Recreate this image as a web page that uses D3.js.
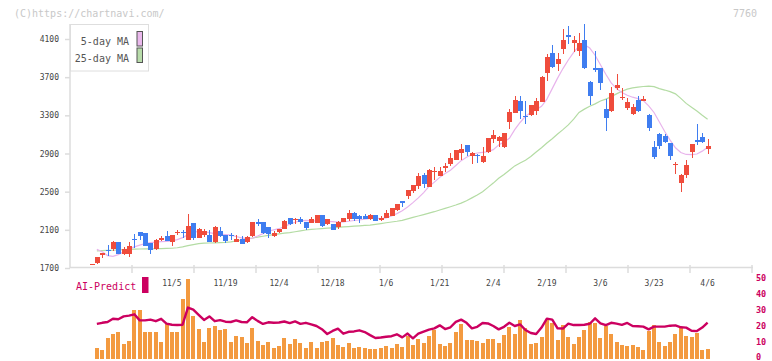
<!DOCTYPE html>
<html><head><meta charset="utf-8">
<script src="https://cdn.jsdelivr.net/npm/d3@7"></script>
<style>
html,body{margin:0;padding:0;background:#fff;}
svg{display:block;font-family:"DejaVu Sans Mono","Liberation Mono",monospace;}
</style></head><body>
<svg id="c" width="772" height="361"></svg>
<script>
// ---- data ----
const openP=[1738,1752,1839,1889,1896,1972,1844,1844,2007,2077,2067,1962,1896,1997,2035,1976,2075,2080,1993,2171,2018,2049,2046,1972,
2088,2046,2049,1972,2004,1972,2035,2182,2182,2130,2035,2077,2109,2224,2214,2213,2182,2172,2172,2255,2161,2161,2130,2182,2213,
2276,2245,2245,2213,2255,2203,2224,2245,2308,2402,2455,2507,2559,2674,2549,2712,2664,2748,2790,2832,2905,2989,2874,2889,
2811,2916,3052,3031,2968,
3230,3325,3450,3298,3303,3345,3440,3744,3953,3838,3995,4141,4058,3974,4089,3649,3796,3796,3366,3345,3587,3489,3377,3314,3461,3450,3303,
2968,3104,3083,3010,2788,2591,2675,2916,3041,3073,2947];
const closeP=[1742,1815,1857,1875,1972,1847,1899,1934,2000,2038,1934,1889,1997,2018,1983,2046,2079,2073,2140,2018,2109,2088,1976,2130,
2038,1983,2042,2004,1951,2025,2182,2172,2067,2056,2067,2109,2193,2161,2218,2182,2119,2213,2255,2140,2213,2098,2182,2224,2276,
2213,2213,2213,2255,2192,2224,2276,2329,2371,2395,2517,2570,2664,2580,2727,2720,2717,2769,2853,2937,2947,2916,2905,2884,
2874,3062,3094,3073,3115,
3335,3461,3345,3290,3408,3450,3702,3911,3807,3890,4089,4120,4089,4058,3796,3503,3786,3639,3272,3534,3618,3495,3440,3387,3345,3471,3167,
2863,2979,3020,2874,2792,2675,2779,2999,3031,3020,2979];
const highP=[1745,1815,1857,1941,1983,1975,1920,1969,2056,2077,2067,1965,2000,2038,2088,2046,2101,2101,2266,2171,2120,2109,2097,2140,
2130,2050,2067,2046,2035,2035,2182,2213,2185,2132,2088,2112,2203,2226,2224,2234,2185,2234,2255,2258,2213,2165,2193,2224,2308,
2287,2255,2266,2266,2258,2245,2308,2329,2371,2402,2517,2570,2695,2695,2737,2758,2758,2800,2905,2940,3000,2992,2916,2895,
2968,3066,3146,3080,3120,
3366,3503,3503,3450,3412,3482,3712,3943,4037,3953,4204,4235,4131,4162,4256,3660,3975,3800,3471,3597,3733,3587,3482,3420,3503,3503,3310,
3031,3115,3104,3015,2811,2685,2832,3000,3209,3115,3052];
const lowP=[1735,1740,1808,1829,1881,1845,1840,1812,1913,1993,1934,1847,1890,1987,1983,1934,2049,2018,1990,1990,2010,2028,1970,1962,
2030,1962,1997,1968,1948,1962,2030,2140,2056,2014,2030,2067,2105,2150,2161,2161,2098,2168,2168,2130,2150,2098,2109,2178,2193,
2193,2172,2210,2205,2190,2195,2220,2240,2300,2339,2420,2486,2528,2538,2545,2622,2660,2706,2769,2830,2832,2874,2790,2800,
2805,2910,3010,2968,2960,
3157,3320,3261,3210,3295,3303,3435,3660,3800,3765,3943,4047,3964,3922,3790,3408,3754,3566,3135,3340,3566,3461,3356,3300,3335,3450,3135,
2842,2947,3015,2832,2685,2496,2643,2853,2989,3015,2895];
const ma5=[null,1895,1870,1830,1822,1840,1870,1900,1922,1940,1955,1965,1972,1976,1978,1985,1998,2018,2050,2078,2082,2082,2070,2060,
2055,2050,2044,2030,2015,2008,2012,2035,2060,2085,2100,2112,2135,2160,2180,2195,2200,2196,2192,2190,2188,2185,2180,2182,2190,
2198,2203,2212,2220,2222,2218,2225,2245,2270,2300,2340,2385,2435,2490,2555,2600,2650,2690,2725,2775,2825,2860,2890,2905,
2912,2918,2940,2990,3020,3060,3150,3225,3290,3330,3360,3395,3470,3580,3690,3790,3880,3960,4025,4040,4005,3930,3830,3730,
3640,3580,3540,3510,3490,3475,3455,3400,3330,3230,3130,3040,2960,2910,2890,2888,2895,2925,2965];
const ma25=[null,1880,1882,1884,1886,1889,1892,1895,1898,1899,1900,1901,1902,1903,1905,1907,1912,1922,1934,1945,1955,1960,1962,1964,
1966,1968,1973,1983,1995,2006,2014,2024,2033,2042,2050,2058,2065,2070,2080,2090,2098,2104,2109,2113,2117,2121,2125,2130,2134,
2138,2142,2146,2150,2158,2166,2174,2182,2190,2200,2215,2230,2245,2260,2275,2290,2308,2325,2342,2360,2380,2405,2435,2465,
2500,2545,2590,2640,2680,2725,2770,2800,2830,2868,2915,2960,3010,3055,3105,3150,3200,3260,3330,3365,3395,3420,3450,3470,
3495,3525,3552,3575,3588,3595,3602,3607,3600,3580,3565,3548,3525,3478,3425,3385,3345,3300,3258];
const volume=[null,6.25,5,12.5,15,16.25,8.75,10.6,30,30,16.25,16.25,16.25,10,21.25,16.25,16.25,36.9,49.4,26.25,18.1,10,18.75,20,
17.5,18.1,10,13.75,13.1,9.4,18.75,10.6,8.1,10,6.25,7.5,12.5,8.75,11.9,9.4,6.25,10,6.25,10,10.6,12.5,8.1,6.9,9.4,
6.25,6.9,6.25,5.6,5.6,6.25,7.5,6.25,8.75,6.9,13.75,8.1,11.9,9.4,13.75,17.5,8.75,7.5,9.4,16.25,21.25,11.25,11.25,10.6,
9.4,11.9,11.9,9.4,14.4,19.4,15,23.75,18.75,8.75,9.4,13.1,23.75,21.9,11.25,20.6,13.1,8.75,13.1,17.5,22.5,21.9,12.5,20,
15,10,8.1,7.5,8.1,6.9,5,16.9,20.6,10,7.5,10,15,18.75,13.75,13.1,15.6,5,5.6];
const aiPredict=[null,21.3,22.0,22.5,24.5,24.2,26.0,26.5,27.3,23.5,23.5,24.0,23.0,24.5,21.5,20.8,20.6,20.8,31.5,30.2,27.0,23.8,26.0,23.0,
23.7,22.7,22.5,23.5,22.5,22.3,25.5,23.2,21.3,22.3,22.0,22.2,22.8,21.8,22.9,21.3,22.0,21.0,20.0,18.0,15.0,16.9,18.3,15.2,16.4,
16.6,17.3,16.2,14.3,12.5,12.8,13.3,13.6,14.8,12.9,15.3,12.3,15.2,16.5,17.7,18.5,20.4,18.1,19.2,22.6,24.0,22.0,18.5,19.5,
21.9,21.6,20.0,17.9,19.5,22.0,20.0,21.0,17.5,15.6,15.0,19.0,24.6,24.0,18.5,18.4,21.5,20.6,20.6,20.8,21.4,24.8,21.7,20.5,
22.0,21.5,20.7,21.9,20.0,19.8,19.6,17.9,19.6,19.6,19.6,20.2,20.4,19.2,19.0,17.0,16.8,19.0,22.1];
const dateLabels=["11/5","11/19","12/4","12/18","1/6","1/21","2/4","2/19","3/6","3/23","4/6"];
const dateIndex=[15,25,35,45,55,65,75,85,95,105,115];
const priceTicks=[1700,2100,2500,2900,3300,3700,4100];
const aiTicks=[0,10,20,30,40,50];
const gridSteps=[1,2,3,4,5,6,7,8,9,10,11];

// ---- drawing ----
const svg=d3.select("#c");
const N=openP.length;
const idx=d3.range(N);
const x=d3.scaleLinear().domain([0,N-1]).range([91.5,707.6]);
const y=d3.scaleLinear().domain([1700,4100]).range([268,39]);
const yAI=d3.scaleLinear().domain([0,50]).range([358,278]);
const yVol=d3.scaleLinear().domain([0,50]).range([358,278]);
const grid=d3.scaleLinear().domain([0,11]).range([70,752]);

const red="#ef4c3c", blue="#3f7df0", axisCol="#dcdcdc", txt="#444";

// watermark & code
svg.append("text").attr("x",14).attr("y",16.5).attr("font-size",10).attr("fill","#c8c8c8").text("(C)https://chartnavi.com/");
svg.append("text").attr("x",757).attr("y",16.5).attr("text-anchor","end").attr("font-size",10).attr("fill","#c8c8c8").text("7760");

// y axis
svg.append("line").attr("x1",70).attr("x2",70).attr("y1",24).attr("y2",268).attr("stroke",axisCol).attr("stroke-width",1.5);
const ya=svg.append("g").attr("transform","translate(70,0)")
  .call(d3.axisLeft(y).tickValues(priceTicks).tickSize(5).tickPadding(6).tickFormat(d3.format("d")));
ya.select(".domain").remove();
ya.selectAll("line").attr("stroke",axisCol).attr("stroke-width",1.5);
ya.selectAll("text").attr("font-size",8).attr("fill",txt).attr("font-family","DejaVu Sans Mono, monospace");

// x axis line + grid ticks
svg.append("line").attr("x1",70).attr("x2",753).attr("y1",267.5).attr("y2",267.5).attr("stroke",axisCol).attr("stroke-width",1.5);
svg.append("g").selectAll("line").data(gridSteps).join("line")
  .attr("x1",d=>grid(d)).attr("x2",d=>grid(d)).attr("y1",265).attr("y2",273)
  .attr("stroke",axisCol).attr("stroke-width",1.5);
svg.append("g").selectAll("text").data(dateLabels).join("text")
  .attr("x",(d,i)=>x(dateIndex[i])).attr("y",285.5).attr("text-anchor","middle")
  .attr("font-size",8).attr("fill",txt).text(d=>d);

// moving averages
const lineGen=arr=>d3.line().defined(i=>arr[i]!=null).x(i=>x(i)).y(i=>y(arr[i]));
svg.append("path").attr("d",lineGen(ma25)(idx)).attr("fill","none").attr("stroke","#b4dca4").attr("stroke-width",1.2);
svg.append("path").attr("d",lineGen(ma5)(idx)).attr("fill","none").attr("stroke","#e8b4ec").attr("stroke-width",1.2);

// candles
const cg=svg.append("g").attr("shape-rendering","crispEdges");
const col=i=>closeP[i]>=openP[i]?red:blue;
cg.selectAll("line").data(idx).join("line")
  .attr("x1",i=>Math.round(x(i))+0.5).attr("x2",i=>Math.round(x(i))+0.5)
  .attr("y1",i=>y(highP[i])).attr("y2",i=>y(lowP[i])).attr("stroke",col).attr("stroke-width",1);
cg.selectAll("rect").data(idx).join("rect")
  .attr("x",i=>Math.round(x(i))-2).attr("width",5)
  .attr("y",i=>y(Math.max(openP[i],closeP[i])))
  .attr("height",i=>Math.max(1.5,Math.abs(y(openP[i])-y(closeP[i]))))
  .attr("fill",col);

// legend
svg.append("rect").attr("x",70.5).attr("y",24.5).attr("width",78).attr("height",46.5).attr("fill","#fff").attr("stroke","#dedede");
const legend=[["5-day MA","#eab8ec",45],["25-day MA","#b8dcaa",61.5]];
legend.forEach(([t,c,yy])=>{
  svg.append("text").attr("x",129).attr("y",yy).attr("text-anchor","end").attr("font-size",10).attr("fill","#555").text(t);
  svg.append("rect").attr("x",137).attr("y",yy-13.5).attr("width",5.5).attr("height",14.5).attr("fill",c).attr("stroke","#555").attr("stroke-width",1);
});

// volume bars
svg.append("g").attr("shape-rendering","crispEdges").selectAll("rect").data(idx.filter(i=>volume[i]!=null)).join("rect")
  .attr("x",i=>Math.round(x(i))-2).attr("width",4)
  .attr("y",i=>yVol(volume[i])).attr("height",i=>yVol(0)+1-yVol(volume[i]))
  .attr("fill","#f39a40");

// AI predict line
const aiCol="#cc0060";
svg.append("path").attr("d",d3.line().defined(i=>aiPredict[i]!=null).x(i=>x(i)).y(i=>yAI(aiPredict[i]))(idx))
  .attr("fill","none").attr("stroke",aiCol).attr("stroke-width",2.4).attr("stroke-linejoin","round");

// AI axis labels (right)
svg.append("g").selectAll("text").data(aiTicks).join("text")
  .attr("x",756).attr("y",d=>Math.min(yAI(d)+3,359.5)).attr("font-size",8.5).attr("font-weight","bold").attr("fill",aiCol).text(d=>d);

// AI-Predict legend
svg.append("text").attr("x",76).attr("y",290).attr("font-size",10).attr("fill",aiCol).text("AI-Predict");
svg.append("rect").attr("x",142).attr("y",277).attr("width",6.5).attr("height",16).attr("fill",aiCol);
</script>
</body></html>
